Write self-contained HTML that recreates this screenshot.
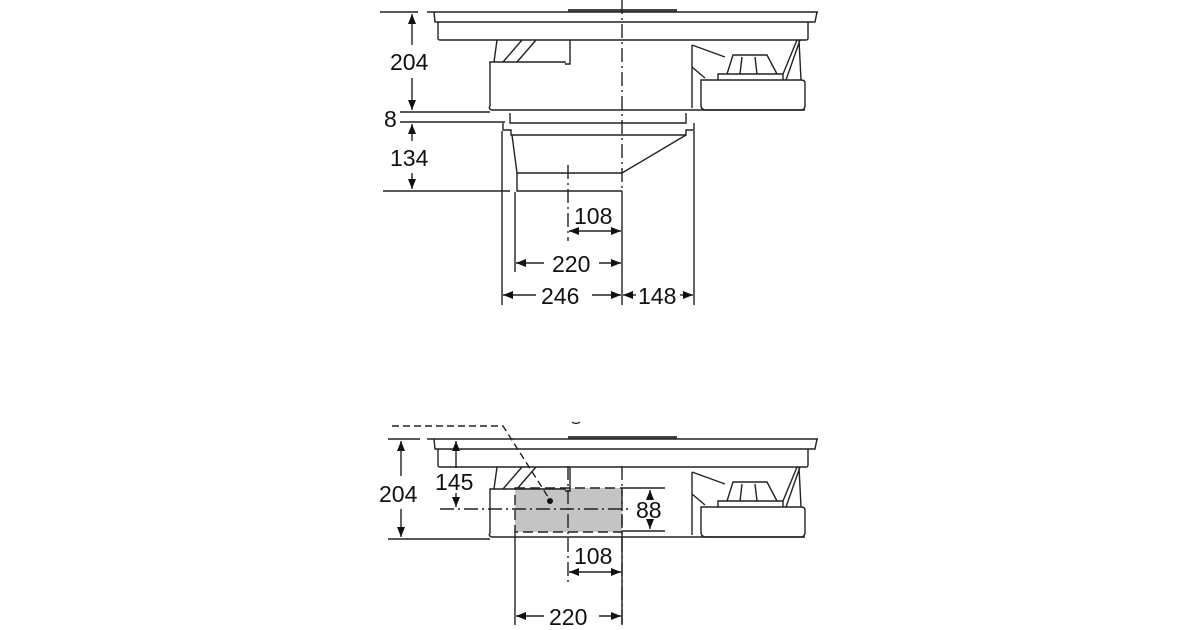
<!DOCTYPE html>
<html><head><meta charset="utf-8"><style>
html,body{margin:0;padding:0;background:#fff;}
svg{display:block}
text{font-family:"Liberation Sans",sans-serif;font-size:23px;fill:#111}
</style></head><body>
<svg width="1200" height="630" viewBox="0 0 1200 630" xmlns="http://www.w3.org/2000/svg">
<defs>
<marker id="a" viewBox="0 0 10 10" refX="10" refY="5" markerWidth="10" markerHeight="10" markerUnits="userSpaceOnUse" orient="auto-start-reverse"><path d="M0,1 L10,5 L0,9 z" fill="#111"/></marker>
<g id="hob" fill="none" stroke="#222" stroke-width="1.4">
<rect x="568" y="-3" width="109" height="3" fill="#444" stroke="none"/>
<line x1="427" y1="0" x2="818" y2="0"/>
<path d="M434,0 L435,10 L815,10 L817,0"/>
<path d="M438,10 L438,26 Q438,28 440,28 L806,28 Q808,28 808,26 L808,10"/>
<path d="M497,28 L494,50 L490,50 L490,94 Q488,97 492,98 L805,98"/>
<path d="M494,50 L565,50 L565,51 M570,28 L570,52 L565,52"/>
<path d="M503,50 L522,28 M517,50 L536,28"/>
<path d="M692,33 L692,96 M692,33 L725,45 M692,55 L705,66"/>
<path d="M701,68 L701,93 Q701,98 706,98 L801,98 Q805,98 805,93 L805,71 Q805,68 801,68 Z"/>
<path d="M718,68 L718,62 L783,62 L783,68 M727,62 L733,43 L767,43 L777,62 M740,62 L742,45 M757,62 L755,45"/>
<path d="M783,62 L797,28 M786,68 L800,28 M801,68 L799,28"/>
</g>
</defs>

<use href="#hob" transform="translate(0,12)"/>
<g fill="none" stroke="#222" stroke-width="1.4">
<path d="M510,113 L510,123 L686,123 L686,113"/>
<path d="M503,123 L503,130 L511,130 L511,135 L686,135 L686,130 L694,130 L694,123"/>
<path d="M512,135 L517,173 L622,173 M686,135 L622,173"/>
<path d="M517,173 L517,191 L622,191"/>
<line x1="380" y1="12" x2="418" y2="12"/>
<line x1="400" y1="112" x2="490" y2="112"/>
<line x1="400" y1="122" x2="505" y2="122"/>
<line x1="383" y1="191" x2="510" y2="191"/>
<line x1="502" y1="131" x2="502" y2="305"/>
<line x1="694" y1="131" x2="694" y2="305"/>
<line x1="515" y1="192" x2="515" y2="272"/>
<line x1="622" y1="191" x2="622" y2="305"/>
<line x1="568" y1="165" x2="568" y2="241" stroke-dasharray="14,4,2,4"/>
<line x1="622" y1="0" x2="622" y2="190" stroke-dasharray="14,4,2,4"/>
<line x1="412" y1="14" x2="412" y2="45" marker-start="url(#a)"/>
<line x1="412" y1="78" x2="412" y2="110" marker-end="url(#a)"/>
<line x1="412" y1="124" x2="412" y2="141" marker-start="url(#a)"/>
<line x1="412" y1="173" x2="412" y2="189" marker-end="url(#a)"/>
<line x1="569" y1="231" x2="621" y2="231" marker-start="url(#a)" marker-end="url(#a)"/>
<line x1="516" y1="263" x2="544" y2="263" marker-start="url(#a)"/>
<line x1="599" y1="263" x2="621" y2="263" marker-end="url(#a)"/>
<line x1="503" y1="295" x2="536" y2="295" marker-start="url(#a)"/>
<line x1="592" y1="295" x2="621" y2="295" marker-end="url(#a)"/>
<line x1="623" y1="295" x2="636" y2="295" marker-start="url(#a)"/>
<line x1="680" y1="295" x2="693" y2="295" marker-end="url(#a)"/>
</g>
<text x="390" y="70">204</text>
<text x="384" y="127">8</text>
<text x="390" y="166">134</text>
<text x="574" y="224">108</text>
<text x="552" y="272">220</text>
<text x="541" y="304">246</text>
<text x="638" y="304">148</text>

<rect x="515" y="488" width="107" height="44" fill="#c4c4c4"/>
<use href="#hob" transform="translate(0,439)"/>
<g fill="none" stroke="#222" stroke-width="1.4">
<path d="M572,422 Q576,425 580,422"/>
<path d="M392,426 L503,426 L550,500" stroke-dasharray="7,4"/>
<circle cx="550" cy="501" r="3" fill="#111" stroke="none"/>
<rect x="515" y="488" width="107" height="44" stroke-dasharray="10,5"/>
<line x1="622" y1="466" x2="622" y2="625" stroke-dasharray="14,4,2,4"/>
<line x1="568" y1="466" x2="568" y2="582" stroke-dasharray="14,4,2,4"/>
<line x1="440" y1="509" x2="632" y2="509" stroke-dasharray="14,4,2,4"/>
<line x1="515" y1="532" x2="515" y2="625"/>
<line x1="622" y1="532" x2="622" y2="625"/>
<line x1="388" y1="439" x2="420" y2="439"/>
<line x1="388" y1="539" x2="490" y2="539"/>
<line x1="622" y1="488" x2="665" y2="488"/>
<line x1="622" y1="531" x2="665" y2="531"/>
<line x1="401" y1="441" x2="401" y2="476" marker-start="url(#a)"/>
<line x1="401" y1="509" x2="401" y2="537" marker-end="url(#a)"/>
<line x1="456" y1="441" x2="456" y2="468" marker-start="url(#a)"/>
<line x1="456" y1="493" x2="456" y2="507" marker-end="url(#a)"/>
<line x1="650" y1="490" x2="650" y2="498" marker-start="url(#a)"/>
<line x1="650" y1="521" x2="650" y2="529" marker-end="url(#a)"/>
<line x1="569" y1="572" x2="621" y2="572" marker-start="url(#a)" marker-end="url(#a)"/>
<line x1="516" y1="616" x2="544" y2="616" marker-start="url(#a)"/>
<line x1="599" y1="616" x2="621" y2="616" marker-end="url(#a)"/>
</g>
<text x="379" y="502">204</text>
<text x="435" y="490">145</text>
<text x="636" y="518">88</text>
<text x="574" y="564">108</text>
<text x="549" y="625">220</text>
</svg>
</body></html>
